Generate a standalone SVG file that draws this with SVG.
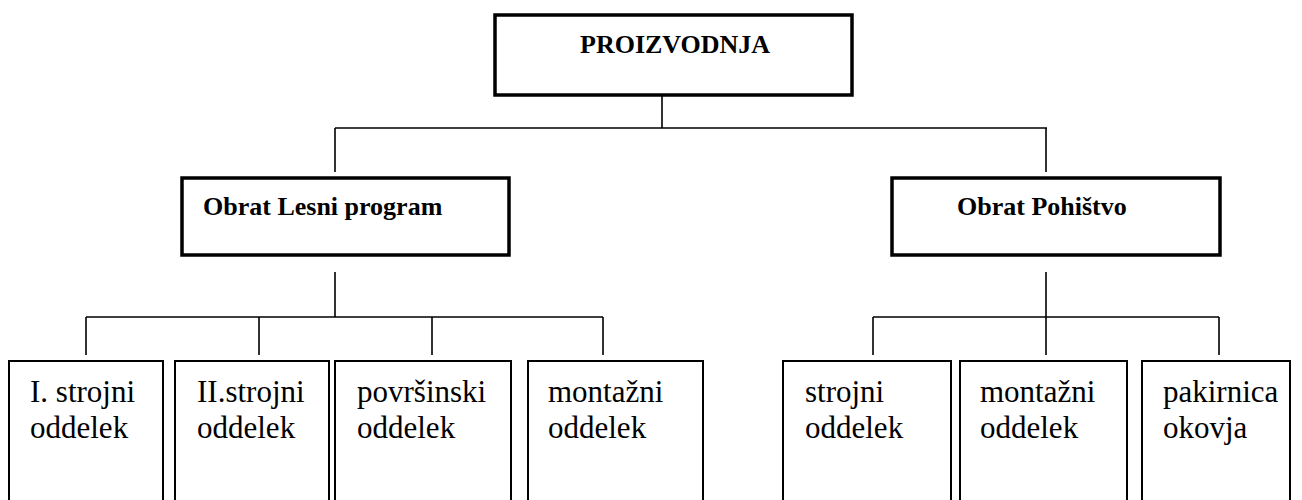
<svg xmlns="http://www.w3.org/2000/svg" width="1302" height="500" viewBox="0 0 1302 500">
<style>
.thick{fill:#fff;stroke:#000;stroke-width:3.5}
.thin{fill:#fff;stroke:#000;stroke-width:2}
.b{font-family:"Liberation Serif",serif;font-weight:bold;font-size:26px;fill:#000}
.r{font-family:"Liberation Serif",serif;font-size:31px;fill:#000}
.c{fill:none;stroke:#000;stroke-width:1.6}
</style>
<rect width="1302" height="500" fill="#fff"/>
<g id="connectors">
<path class="c" d="M662 95V128M335 128H1047M335 128V172M1046 128V172"/>
<path class="c" d="M335 272V317M86 317H603M86 317V355M259 317V355M432 317V355M603 317V355"/>
<path class="c" d="M1046 272V317M873 317H1219M873 317V355M1046 317V355M1219 317V355"/>
</g>
<g id="proizvodnja"><rect class="thick" x="495" y="15" width="357" height="80"/><text class="b" x="580" y="53">PROIZVODNJA</text></g>
<g id="lesni"><rect class="thick" x="182" y="178" width="327" height="77"/><text class="b" x="203" y="215">Obrat Lesni program</text></g>
<g id="pohistvo"><rect class="thick" x="892" y="178" width="328" height="77"/><text class="b" x="957" y="215">Obrat Pohištvo</text></g>
<g id="n1"><rect class="thin" x="9" y="361" width="154" height="160"/><text class="r" x="30" y="402">I. strojni</text><text class="r" x="30" y="438">oddelek</text></g>
<g id="n2"><rect class="thin" x="175" y="361" width="154" height="160"/><text class="r" x="197" y="402">II.strojni</text><text class="r" x="197" y="438">oddelek</text></g>
<g id="n3"><rect class="thin" x="335" y="361" width="176" height="160"/><text class="r" x="357" y="402">površinski</text><text class="r" x="357" y="438">oddelek</text></g>
<g id="n4"><rect class="thin" x="528" y="361" width="175" height="160"/><text class="r" x="548" y="402">montažni</text><text class="r" x="548" y="438">oddelek</text></g>
<g id="n5"><rect class="thin" x="783" y="361" width="168" height="160"/><text class="r" x="805" y="402">strojni</text><text class="r" x="805" y="438">oddelek</text></g>
<g id="n6"><rect class="thin" x="960" y="361" width="167" height="160"/><text class="r" x="980" y="402">montažni</text><text class="r" x="980" y="438">oddelek</text></g>
<g id="n7"><rect class="thin" x="1142" y="361" width="148" height="160"/><text class="r" x="1163" y="402">pakirnica</text><text class="r" x="1163" y="438">okovja</text></g>
</svg>
